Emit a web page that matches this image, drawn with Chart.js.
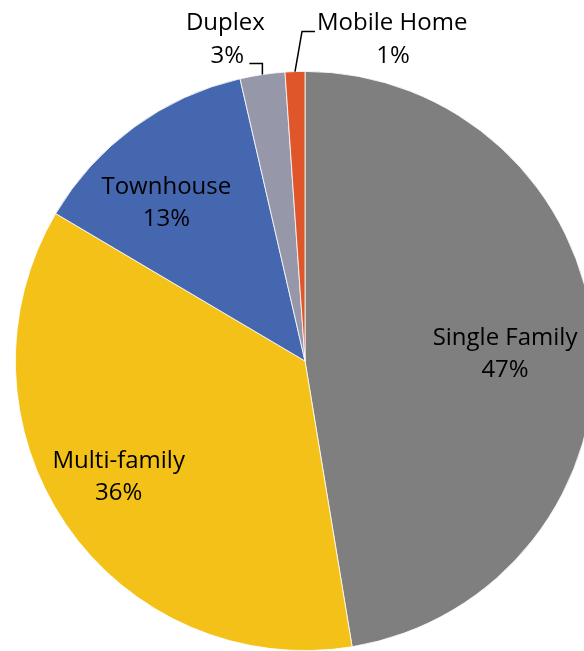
<!DOCTYPE html>
<html>
<head>
<meta charset="utf-8">
<script src="https://cdn.jsdelivr.net/npm/chart.js@4"></script>
<style>
    html, body { margin: 0; padding: 0; background: #fff; overflow: hidden; }
    #wrap { width: 600px; height: 651px; }
</style>
</head>
<body>
<div id="wrap"><canvas id="pie-chart" width="600" height="651"></canvas></div>
<script>
// Housing types, clockwise from 12 o'clock
const categories = ['Single Family', 'Multi-family', 'Townhouse', 'Duplex', 'Mobile Home'];
const shares = [47.4, 36.1, 12.9, 2.5, 1.1];
const shareLabels = ['47%', '36%', '13%', '3%', '1%'];
const sliceColors = ['#7f7f7f', '#f3c117', '#4567b0', '#9697a9', '#e0562b'];

const FONT = '24px "Open Sans", sans-serif';
const LINE_GAP = 32;

// label placement: inside labels sit along the slice's mid angle, outside ones get a leader line
const labelLayout = [
    { inside: true, ratio: 0.7, dx: -2, dy: 10 },
    { inside: true, ratio: 0.7, dx: -19, dy: 2 },
    { inside: true, ratio: 0.7, dx: -19, dy: 6 },
    { inside: false, side: 'left' },
    { inside: false, side: 'right' }
];

const pieLabels = {
    id: 'pieLabels',
    afterDatasetsDraw(chart) {
        const ctx = chart.ctx;
        const meta = chart.getDatasetMeta(0);
        ctx.save();
        ctx.font = FONT;
        ctx.fillStyle = '#000';
        ctx.textBaseline = 'middle';
        ctx.strokeStyle = '#000';
        ctx.lineWidth = 1.5;

        meta.data.forEach((arc, i) => {
            const p = arc.getProps(['x', 'y', 'startAngle', 'endAngle', 'outerRadius'], true);
            const mid = (p.startAngle + p.endAngle) / 2;
            const lay = labelLayout[i];

            if (lay.inside) {
                const cx = p.x + Math.cos(mid) * p.outerRadius * lay.ratio + lay.dx;
                const cy = p.y + Math.sin(mid) * p.outerRadius * lay.ratio + lay.dy;
                ctx.textAlign = 'center';
                ctx.fillText(categories[i], cx, cy - LINE_GAP / 2);
                ctx.fillText(shareLabels[i], cx, cy + LINE_GAP / 2);
                return;
            }

            // point on the rim at the slice's middle
            const ex = p.x + Math.cos(mid) * p.outerRadius;
            const ey = p.y + Math.sin(mid) * p.outerRadius;

            ctx.beginPath();
            if (lay.side === 'left') {
                ctx.moveTo(ex, ey);
                ctx.lineTo(ex, ey - 11);
                ctx.lineTo(ex - 13, ey - 11);
                ctx.stroke();
                ctx.textAlign = 'center';
                ctx.fillText(categories[i], ex - 37, ey - 51);
                ctx.fillText(shareLabels[i], ex - 35, ey - 18);
            } else {
                ctx.moveTo(ex, ey);
                ctx.lineTo(ex + 7, ey - 40);
                ctx.lineTo(ex + 20, ey - 40);
                ctx.stroke();
                ctx.textAlign = 'left';
                ctx.fillText(categories[i], ex + 22, ey - 48);
                ctx.textAlign = 'center';
                ctx.fillText(shareLabels[i], ex + 98, ey - 15);
            }
        });
        ctx.restore();
    }
};

new Chart(document.getElementById('pie-chart').getContext('2d'), {
    type: 'pie',
    data: {
        labels: categories,
        datasets: [{
            data: shares,
            backgroundColor: sliceColors,
            borderColor: '#ffffff',
            borderWidth: 0.8
        }]
    },
    options: {
        responsive: false,
        animation: false,
        layout: { padding: { top: 71, left: 15, right: 5, bottom: 0 } },
        plugins: {
            legend: { display: false },
            tooltip: { enabled: false }
        }
    },
    plugins: [pieLabels]
});
</script>
</body>
</html>
